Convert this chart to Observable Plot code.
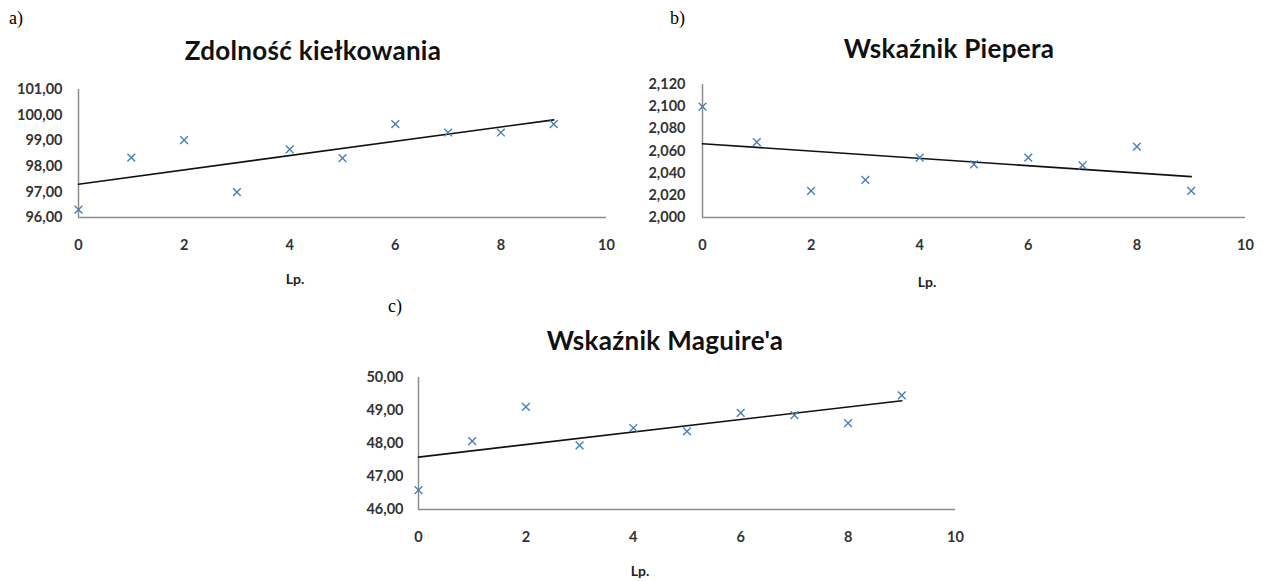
<!DOCTYPE html>
<html>
<head>
<meta charset="utf-8">
<script src="https://cdn.jsdelivr.net/npm/d3@7"></script>
<script src="https://cdn.jsdelivr.net/npm/@observablehq/plot@0.6"></script>
<style>
  html, body { margin: 0; padding: 0; background: #fff; }
  #root { position: relative; width: 1263px; height: 581px; overflow: hidden; font-family: Lato, "Open Sans", sans-serif; }
  .panel { position: absolute; }
  .lbl { position: absolute; font-family: "Liberation Serif", "DejaVu Serif", serif; font-size: 18px; color: #000; white-space: nowrap; }
  .ttl { position: absolute; font-family: Lato, sans-serif; font-weight: bold; font-size: 26px; letter-spacing: 0.3px; color: #111; white-space: nowrap; transform: translate(-50%, -50%); }
  .axl { position: absolute; font-family: Lato, sans-serif; font-weight: bold; font-size: 14px; color: #222; white-space: nowrap; transform: translate(-50%, -50%); }
</style>
</head>
<body>
<div id="root"></div>
<script>
// ---- data ----
const lp = [0, 1, 2, 3, 4, 5, 6, 7, 8, 9];
const zdolnosc = [96.31, 98.34, 99.02, 96.99, 98.66, 98.32, 99.65, 99.32, 99.32, 99.65];
const pieper = [2.100, 2.068, 2.024, 2.034, 2.054, 2.048, 2.054, 2.047, 2.064, 2.024];
const maguire = [46.59, 48.07, 49.11, 47.94, 48.47, 48.37, 48.93, 48.86, 48.62, 49.46];

const xTicks = [0, 2, 4, 6, 8, 10];
const yTicksA = [96, 97, 98, 99, 100, 101];
const yTicksB = [2.000, 2.020, 2.040, 2.060, 2.080, 2.100, 2.120];
const yTicksC = [46, 47, 48, 49, 50];

const titles = ["Zdolność kiełkowania", "Wskaźnik Piepera", "Wskaźnik Maguire'a"];
const letters = ["a)", "b)", "c)"];
const xLabel = "Lp.";

const root = document.getElementById("root");

function commaFmt(decimals) {
  const f = d3.format("." + decimals + "f");
  return (d) => f(d).replace(".", ",");
}

function panel(opts) {
  const data = lp.map((x, i) => ({x, y: opts.values[i]}));
  const yMin = opts.yTicks[0], yMax = opts.yTicks[opts.yTicks.length - 1];
  const chart = Plot.plot({
    width: opts.width,
    height: opts.height,
    marginLeft: opts.ml,
    marginRight: opts.mr,
    marginTop: opts.mt,
    marginBottom: opts.mb,
    style: {fontFamily: "Lato, sans-serif", fontSize: "14.5px", color: "#333", background: "transparent"},
    x: {domain: [0, 10]},
    y: {domain: [yMin, yMax]},
    marks: [
      Plot.axisX({ticks: xTicks, tickSize: 0, tickPadding: 22, label: null, tickFormat: d3.format("d"), fontWeight: "bold"}),
      Plot.axisY({ticks: opts.yTicks, tickSize: 0, tickPadding: opts.tp, label: null, tickFormat: commaFmt(opts.dec), fontWeight: "bold"}),
      Plot.ruleY([yMin], {x1: 0, x2: 10, stroke: "#8c8c8c", strokeWidth: 1.5}),
      Plot.ruleX([0], {y1: yMin, y2: yMax, stroke: "#8c8c8c", strokeWidth: 1.5}),
      Plot.linearRegressionY(data, {x: "x", y: "y", ci: 0, stroke: "#111", strokeWidth: 1.6}),
      Plot.dot(data, {x: "x", y: "y", symbol: "times", r: 3.6, stroke: "#4a7ebb", strokeWidth: 1.4})
    ]
  });
  chart.classList.add("panel");
  chart.style.left = opts.left + "px";
  chart.style.top = opts.top + "px";
  root.appendChild(chart);

  const t = document.createElement("div");
  t.className = "ttl"; t.textContent = opts.title;
  t.style.left = opts.tx + "px"; t.style.top = opts.ty + "px";
  root.appendChild(t);

  const l = document.createElement("div");
  l.className = "lbl"; l.textContent = opts.letter;
  l.style.left = opts.lx + "px"; l.style.top = opts.ly + "px";
  root.appendChild(l);

  const a = document.createElement("div");
  a.className = "axl"; a.textContent = xLabel;
  a.style.left = opts.ax + "px"; a.style.top = opts.ay + "px";
  root.appendChild(a);
}

panel({values: zdolnosc, yTicks: yTicksA, dec: 2, tp: 16,
  left: 0, top: 70, width: 640, height: 230, ml: 78, mr: 34, mt: 19, mb: 83,
  title: titles[0], tx: 313, ty: 50, letter: letters[0], lx: 9, ly: 8, ax: 295, ay: 278});

panel({values: pieper, yTicks: yTicksB, dec: 3, tp: 17,
  left: 640, top: 70, width: 623, height: 230, ml: 62, mr: 18, mt: 14, mb: 83,
  title: titles[1], tx: 949, ty: 48, letter: letters[1], lx: 670, ly: 8, ax: 927, ay: 281});

panel({values: maguire, yTicks: yTicksC, dec: 2, tp: 15,
  left: 330, top: 360, width: 650, height: 221, ml: 88, mr: 25, mt: 17, mb: 72,
  title: titles[2], tx: 665, ty: 340, letter: letters[2], lx: 388, ly: 296, ax: 640, ay: 570});
</script>
</body>
</html>
